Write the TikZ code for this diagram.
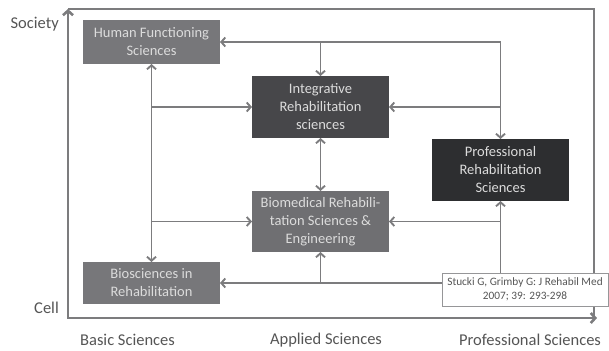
\documentclass[tikz,border=0pt]{standalone}
\usepackage{fontspec}
\setmainfont{Carlito}
\usetikzlibrary{calc}
\usetikzlibrary{arrows.meta}
\usetikzlibrary{positioning}
\definecolor{linegray}{HTML}{7C7C7E}
\definecolor{midbox}{HTML}{77777A}
\definecolor{biobox}{HTML}{6F6F72}
\definecolor{darkbox}{HTML}{47474A}
\definecolor{blackbox}{HTML}{2D2E30}
\definecolor{boxtext}{HTML}{DCDCDC}
\definecolor{labtext}{HTML}{555555}
\tikzset{tip/.style={-{Straight Barb[length=4pt,width=9pt]}}}

\begin{document}
\begin{tikzpicture}[x=1pt,y=-1pt]
  % some styles
  \tikzset{
    box/.style={
      rectangle,
      minimum width=137pt,
      inner sep=0pt,
      outer sep=0pt,
      align=center,
      text=boxtext,
      font=\fontsize{14.5}{18}\selectfont
    },
    link/.style={draw=linegray,line width=1.9pt,tip},
    twoway/.style={link,{Straight Barb[length=4pt,width=9pt]}-{Straight Barb[length=4pt,width=9pt]}},
    axislabel/.style={text=labtext,font=\fontsize{16.5}{20}\selectfont,inner sep=0pt}
  }
\useasboundingbox (0,0) rectangle (609,350);

% axes and frame
\coordinate (ytop) at (68,9);
\coordinate (xend) at (597,318);
\draw[draw=linegray,line width=1.5pt] (ytop) -| (594,318);
\draw[draw=linegray,line width=2.6pt,{Straight Barb[length=4.5pt,width=10pt]}-{Straight Barb[length=4.5pt,width=10pt]}] (ytop) |- (xend);
\node[axislabel,anchor=east] (society) at (59,24) {Society};
\node[axislabel,anchor=east] (cell) at (59,308) {Cell};
\foreach \lab/\xx/\nm in {Basic Sciences/127.5/basic,Applied Sciences/326/applied,Professional Sciences/530/professional} {
    \node[axislabel] (\nm) at (\xx,340) {\lab};
}

% boxes
\node[box,fill=midbox,minimum height=44pt] (hfs) at (151.5,42) {Human Functioning\\Sciences};
\node[box,fill=darkbox,minimum height=62pt] (irs) at (320.5,107) {Integrative\\Rehabilitation\\sciences};
\node[box,fill=blackbox,minimum height=62pt] (prs) at (500.5,170) {Professional\\Rehabilitation\\Sciences};
\node[box,fill=biobox,minimum height=61pt] (brs) at (320.5,221.5) {Biomedical Rehabili-\\tation Sciences \&\\Engineering};
\node[box,fill=midbox,minimum height=42pt] (bir) at (151.5,283) {Biosciences in\\Rehabilitation};
\node[rectangle,draw=linegray!80,line width=0.8pt,fill=white,minimum width=166pt,minimum height=33pt,
      inner sep=0pt,align=center,text=labtext,font=\fontsize{11.3}{14}\selectfont] (ref) at (525,289.5)
      {Stucki G, Grimby G: J Rehabil Med\\2007; 39: 293-298};

% connectors
\coordinate (tr) at (prs |- hfs);
\draw[link] (tr) -- (hfs.east);
\draw[link] (tr) -- (prs.north);
\draw[link] (irs |- hfs) -- (irs.north);
\draw[twoway] (hfs.south) -- (bir.north);
\draw[link] (hfs |- irs) -- (irs.west);
\draw[link] (hfs |- brs) -- (brs.west);
\draw[link] (prs |- irs) -- (irs.east);
\draw[link] (prs |- brs) -- (brs.east);
\draw[twoway] (irs.south) -- (brs.north);
\draw[link] (prs |- ref.north) -- (prs.south);
\draw[link] (ref.west |- bir) -- (bir.east);
\draw[link] (brs |- bir) -- (brs.south);
\end{tikzpicture}
\end{document}
